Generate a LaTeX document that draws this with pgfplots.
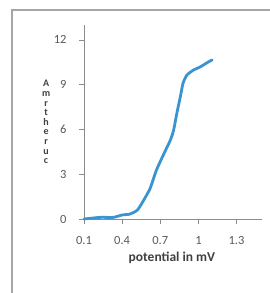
\documentclass[border=0pt]{standalone}
\usepackage{fontspec}
\setmainfont{Carlito}
\usepackage{pgfplots}
\pgfplotsset{compat=1.18}
\definecolor{curve}{HTML}{3A94D1}
\definecolor{axisgray}{HTML}{8C8C8C}
\definecolor{ticktext}{HTML}{595959}
\definecolor{labeltext}{HTML}{404040}
\definecolor{framegray}{HTML}{A6A6A6}
\begin{document}
\begin{tikzpicture}
\useasboundingbox (0,0) rectangle (270pt,-293pt);
\draw[framegray, line width=1.6pt] (12pt,-300pt) -- (12pt,-10pt) -- (280pt,-10pt);
\begin{axis}[
  at={(84pt,-219pt)}, anchor=south west,
  width=178pt, height=194pt, scale only axis,
  xmin=0.1, xmax=1.5, ymin=0, ymax=13,
  axis x line*=bottom, axis y line*=left,
  axis line style={axisgray, line width=0.8pt, -},
  tick style={axisgray, line width=0.8pt},
  tick align=outside, major tick length=5pt,
  xtick={0.1,0.4,0.7,1,1.3}, ytick={0,3,6,9,12},
  /pgf/number format/assume math mode=true,
  ticklabel style={font=\fontsize{12.5}{14}\selectfont, text=ticktext},
  yticklabel style={xshift=-9pt},
  xticklabel style={yshift=-9pt},
  xlabel={potential in mV},
  xlabel style={at={(axis description cs:0.494,-0.201)}, anchor=center, font=\bfseries\fontsize{13.5}{15}\selectfont, text=labeltext},
  ylabel={A\\m\\r\\t\\h\\e\\r\\u\\c},
  ylabel style={rotate=-90, at={(axis description cs:-0.213,0.5)}, anchor=center, align=center, font=\bfseries\fontsize{10}{9.6}\selectfont, text=labeltext},
  clip=false,
]
\addplot[curve, line width=2.8pt, line join=round, line cap=round, smooth, tension=0.4] coordinates {
(0.10,0.00) (0.226,0.11) (0.33,0.11) (0.40,0.27) (0.46,0.33) (0.52,0.60)
(0.57,1.27) (0.62,2.05) (0.67,3.28) (0.73,4.40) (0.78,5.30) (0.805,5.96)
(0.83,7.08) (0.858,8.20) (0.879,9.10) (0.91,9.65) (0.963,9.99) (1.016,10.20)
(1.069,10.48) (1.108,10.66)
};
\end{axis}
\end{tikzpicture}
\end{document}
